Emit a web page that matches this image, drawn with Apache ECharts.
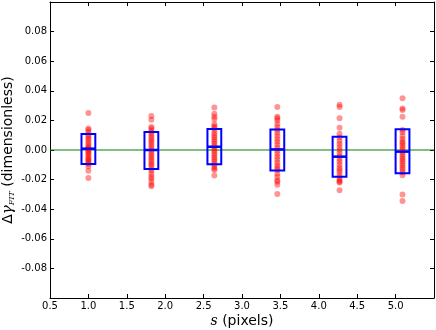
<!DOCTYPE html>
<html>
<head>
<meta charset="utf-8">
<script src="https://cdn.jsdelivr.net/npm/echarts@6/dist/echarts.min.js"></script>
<style>
  html, body { margin: 0; padding: 0; background: #fff; }
  #chart { width: 436px; height: 330px; }
</style>
</head>
<body>
<div id="chart"></div>
<script>
// box positions along s (pixels)
const positions = [1.0, 1.82, 2.64, 3.46, 4.27, 5.09]
const boxLow = [-0.0094, -0.0128, -0.0096, -0.0139, -0.018, -0.0157]
const boxHigh = [0.0108, 0.0121, 0.0142, 0.0139, 0.009, 0.014]
const medians = [0.0009, 0.0, 0.0022, 0.0004, -0.0045, -0.0011]

// individual measurements for each s
const samples1 = [0.025, 0.0145, 0.0135, 0.012, 0.01, 0.009, 0.0075, 0.006, 0.0045, 0.003, 0.002, 0.001, 0.0, -0.001, -0.002, -0.003, -0.0045, -0.0055, -0.0065, -0.0075, -0.0085, -0.0095, -0.011, -0.014, -0.019]
const samples2 = [0.023, 0.0205, 0.0155, 0.0145, 0.013, 0.0115, 0.01, 0.0085, 0.007, 0.0055, 0.004, 0.0025, 0.001, -0.0005, -0.002, -0.0035, -0.005, -0.0065, -0.008, -0.0095, -0.0105, -0.0125, -0.014, -0.016, -0.018, -0.0195, -0.0215, -0.0235, -0.0245]
const samples3 = [0.0288, 0.0245, 0.0225, 0.021, 0.0175, 0.016, 0.015, 0.0135, 0.0115, 0.01, 0.0085, 0.007, 0.0055, 0.004, 0.0025, 0.001, -0.0005, -0.002, -0.0035, -0.005, -0.0065, -0.008, -0.0095, -0.011, -0.0125, -0.0135, -0.0173]
const samples4 = [0.029, 0.0225, 0.0215, 0.02, 0.0175, 0.0155, 0.0135, 0.0115, 0.0095, 0.0075, 0.0055, 0.0035, 0.0015, -0.0005, -0.0025, -0.0045, -0.0065, -0.0085, -0.0105, -0.012, -0.0135, -0.016, -0.018, -0.0205, -0.0215, -0.0235, -0.0297]
const samples5 = [0.0305, 0.029, 0.0215, 0.015, 0.011, 0.0085, 0.006, 0.004, 0.002, 0.0, -0.002, -0.004, -0.006, -0.008, -0.01, -0.012, -0.0135, -0.015, -0.017, -0.019, -0.0205, -0.0215, -0.022, -0.0272]
const samples6 = [0.035, 0.028, 0.027, 0.0225, 0.0135, 0.012, 0.0095, 0.0075, 0.0055, 0.0045, 0.003, 0.0015, 0.0, -0.0015, -0.003, -0.0045, -0.006, -0.0075, -0.009, -0.0105, -0.012, -0.0135, -0.015, -0.017, -0.03, -0.0345]
const allSamples = [samples1, samples2, samples3, samples4, samples5, samples6]

const boxWidth = 0.18

const scatterData = []
allSamples.forEach((arr, i) => {
  arr.forEach(v => scatterData.push([positions[i], v]))
})
const boxData = positions.map((p, i) => [p, boxLow[i], boxHigh[i], medians[i]])

const font = 'DejaVu Sans'
const tickStyle = { inside: true, length: 4, lineStyle: { color: '#000' } }
const lineStyle = { show: true, onZero: false, lineStyle: { color: '#000', width: 1 } }

const myChart = echarts.init(document.getElementById('chart'))
myChart.setOption({
  animation: false,
  textStyle: { fontFamily: font },
  grid: { left: 50, right: 2, top: 2, bottom: 32, containLabel: false, outerBoundsMode: 'none' },
  xAxis: [{
    type: 'value',
    min: 0.5,
    max: 5.5,
    interval: 0.5,
    position: 'bottom',
    axisLine: lineStyle,
    axisTick: tickStyle,
    splitLine: { show: false },
    axisLabel: {
      margin: 3,
      color: '#000',
      fontSize: 10,
      fontFamily: font,
      formatter: v => (v > 5.25 ? '' : v.toFixed(1))
    },
    name: '{i|s} (pixels)',
    nameLocation: 'middle',
    nameGap: 16,
    nameMoveOverlap: false,
    nameTextStyle: {
      color: '#000',
      fontSize: 14,
      fontFamily: font,
      rich: {
        i: { fontStyle: 'italic', fontFamily: 'DejaVu Serif', fontSize: 14, color: '#000' }
      }
    }
  }, {
    type: 'value',
    min: 0.5,
    max: 5.5,
    interval: 0.5,
    position: 'top',
    axisLine: lineStyle,
    axisTick: tickStyle,
    axisLabel: { show: false },
    splitLine: { show: false }
  }],
  yAxis: [{
    type: 'value',
    min: -0.1,
    max: 0.1,
    interval: 0.02,
    position: 'left',
    axisLine: lineStyle,
    axisTick: tickStyle,
    splitLine: { show: false },
    axisLabel: {
      margin: 3,
      color: '#000',
      fontSize: 10,
      fontFamily: font,
      formatter: v => (Math.abs(v) > 0.09 ? '' : v.toFixed(2))
    },
    name: '\u0394{g|\u03b3}{s|FIT} (dimensionless)',
    nameLocation: 'middle',
    nameGap: 34,
    nameMoveOverlap: false,
    nameTextStyle: {
      color: '#000',
      fontSize: 14,
      fontFamily: font,
      rich: {
        g: { fontStyle: 'italic', fontFamily: 'DejaVu Serif', fontSize: 15, color: '#000' },
        s: { fontStyle: 'italic', fontFamily: 'DejaVu Serif', fontSize: 8, color: '#000', verticalAlign: 'bottom', padding: [7, 0, 0, 0] }
      }
    }
  }, {
    type: 'value',
    min: -0.1,
    max: 0.1,
    interval: 0.02,
    position: 'right',
    axisLine: lineStyle,
    axisTick: tickStyle,
    axisLabel: { show: false },
    splitLine: { show: false }
  }],
  series: [
    {
      name: 'zero',
      type: 'line',
      data: [[0.5, 0], [5.5, 0]],
      symbol: 'none',
      lineStyle: { color: '#008000', width: 1.2 },
      z: 1
    },
    {
      name: 'samples',
      type: 'scatter',
      data: scatterData,
      symbol: 'circle',
      symbolSize: 6,
      itemStyle: { color: '#ff0000', opacity: 0.42 },
      z: 2
    },
    {
      name: 'boxes',
      type: 'custom',
      data: boxData,
      z: 3,
      renderItem(params, api) {
        const x = api.value(0)
        const lo = api.coord([x - boxWidth / 2, api.value(1)])
        const hi = api.coord([x + boxWidth / 2, api.value(2)])
        const md = api.coord([x, api.value(3)])
        const style = { fill: 'none', stroke: '#0000ff', lineWidth: 2 }
        return {
          type: 'group',
          children: [
            { type: 'rect', shape: { x: lo[0], y: hi[1], width: hi[0] - lo[0], height: lo[1] - hi[1] }, style },
            { type: 'line', shape: { x1: lo[0], y1: md[1], x2: hi[0], y2: md[1] }, style: { stroke: '#0000ff', lineWidth: 2.5 } }
          ]
        }
      }
    }
  ]
})
</script>
</body>
</html>
